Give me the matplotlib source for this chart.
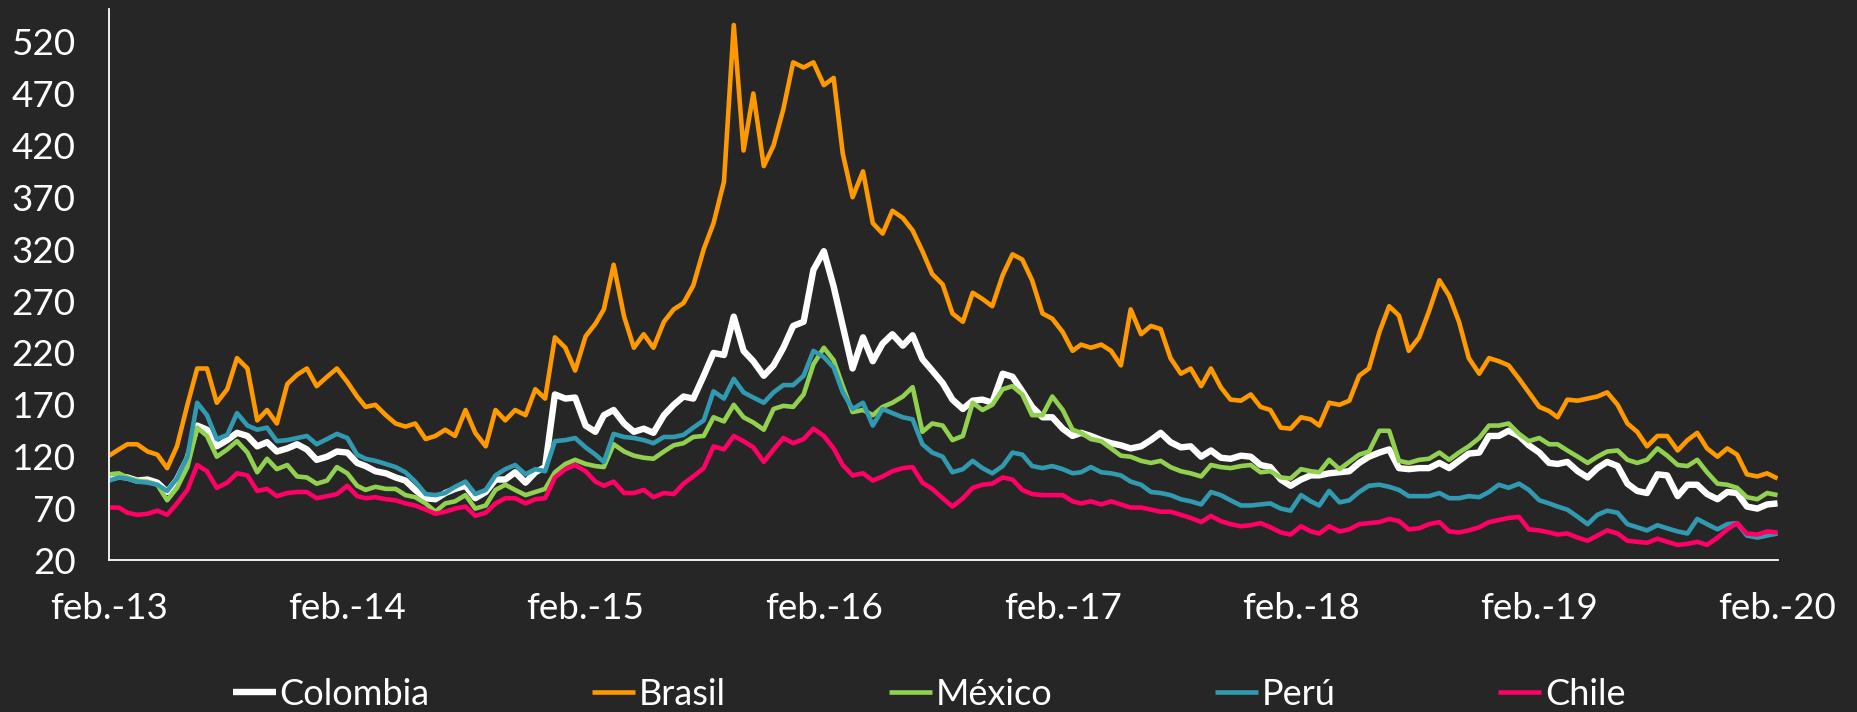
import pandas as pd
import matplotlib
matplotlib.use("Agg")
import matplotlib.pyplot as plt

# Readings taken twice a month (1st and 16th), feb-2013 .. feb-2020
colombia = [99, 101, 100, 97, 98, 95, 86, 98, 118, 150,
            146, 130, 136, 143, 140, 130, 134, 125, 128, 132,
            127, 117, 120, 125, 124, 114, 111, 106, 104, 100,
            97, 88, 80, 79, 85, 89, 92, 80, 86, 98,
            98, 105, 95, 105, 110, 180, 176, 177, 150, 144,
            160, 165, 152, 144, 147, 143, 160, 170, 178, 176,
            198, 220, 218, 255, 222, 212, 198, 208, 225, 246,
            250, 300, 318, 284, 246, 205, 235, 212, 229, 238,
            227, 237, 214, 203, 191, 175, 166, 174, 175, 172,
            200, 197, 183, 168, 158, 158, 147, 140, 143, 140,
            136, 133, 131, 128, 130, 136, 143, 134, 129, 130,
            120, 126, 119, 118, 121, 120, 112, 110, 98, 92,
            98, 102, 102, 104, 105, 106, 114, 120, 124, 127,
            109, 108, 109, 109, 114, 109, 116, 123, 124, 140,
            140, 145, 140, 131, 124, 114, 113, 115, 106, 100,
            109, 115, 111, 94, 87, 85, 103, 102, 82, 93,
            93, 84, 79, 86, 85, 72, 70, 74, 75]

brasil = [121, 127, 132, 132, 125, 122, 109, 130, 170, 205,
          205, 172, 185, 215, 205, 155, 165, 152, 190, 199,
          205, 188, 197, 205, 192, 178, 168, 170, 160, 152,
          149, 152, 137, 140, 146, 140, 165, 143, 130, 165,
          155, 165, 160, 185, 176, 235, 225, 203, 236, 248,
          262, 305, 255, 225, 238, 225, 250, 262, 268, 285,
          320, 345, 385, 536, 415, 470, 400, 420, 455, 500,
          495, 500, 478, 485, 412, 370, 395, 345, 335, 357,
          350, 338, 318, 296, 286, 258, 250, 278, 272, 265,
          295, 315, 310, 290, 258, 253, 240, 222, 228, 225,
          228, 222, 208, 262, 238, 246, 243, 215, 200, 205,
          188, 205, 187, 175, 174, 180, 168, 165, 148, 147,
          158, 156, 150, 172, 170, 174, 198, 205, 240, 265,
          256, 222, 235, 260, 290, 275, 250, 215, 200, 215,
          212, 208, 195, 182, 168, 164, 158, 175, 174, 176,
          178, 182, 170, 152, 144, 130, 140, 140, 126, 136,
          143, 128, 120, 128, 122, 103, 101, 104, 99]

mexico = [103, 104, 100, 97, 96, 93, 78, 90, 110, 148,
          140, 120, 127, 135, 124, 105, 118, 108, 112, 101,
          100, 94, 97, 110, 104, 92, 88, 91, 89, 89,
          83, 81, 75, 67, 75, 77, 83, 70, 73, 88,
          93, 88, 83, 86, 89, 105, 113, 117, 113, 111,
          110, 132, 125, 121, 119, 118, 125, 131, 133, 139,
          140, 158, 154, 170, 158, 153, 146, 166, 169, 168,
          180, 209, 225, 213, 188, 163, 165, 160, 168, 172,
          178, 187, 144, 152, 150, 136, 140, 172, 165, 170,
          185, 188, 180, 160, 160, 178, 165, 146, 143, 137,
          135, 128, 121, 120, 116, 114, 116, 110, 106, 104,
          101, 112, 110, 109, 111, 112, 105, 106, 100, 99,
          108, 106, 105, 117, 108, 115, 122, 125, 145, 145,
          116, 114, 117, 118, 124, 117, 124, 130, 138, 150,
          150, 152, 142, 135, 138, 132, 132, 126, 120, 114,
          120, 125, 126, 117, 114, 117, 128, 121, 112, 111,
          117, 105, 94, 93, 90, 81, 79, 85, 83]

peru = [97, 100, 99, 96, 95, 93, 87, 99, 120, 172,
        160, 137, 141, 162, 150, 146, 148, 135, 136, 138,
        140, 132, 137, 142, 138, 122, 118, 116, 113, 110,
        105, 96, 84, 83, 85, 91, 96, 84, 88, 102,
        108, 112, 103, 108, 106, 135, 136, 138, 129, 122,
        115, 142, 139, 138, 136, 133, 139, 139, 141, 148,
        155, 183, 176, 195, 182, 177, 172, 182, 189, 189,
        198, 222, 216, 206, 182, 166, 172, 150, 166, 162,
        158, 156, 132, 124, 120, 105, 108, 116, 109, 104,
        111, 124, 122, 111, 109, 111, 108, 104, 105, 110,
        105, 104, 102, 96, 93, 86, 85, 83, 79, 77,
        74, 86, 83, 78, 73, 73, 74, 75, 70, 68,
        83, 77, 73, 87, 76, 78, 86, 92, 93, 91,
        88, 82, 82, 82, 85, 80, 80, 82, 81, 86,
        93, 90, 94, 88, 78, 75, 72, 69, 62, 55,
        64, 68, 66, 55, 52, 49, 54, 51, 48, 46,
        60, 55, 50, 55, 56, 44, 42, 44, 46]

chile = [71, 71, 66, 64, 65, 68, 64, 75, 88, 112,
         106, 90, 95, 104, 102, 87, 89, 82, 85, 86,
         86, 80, 82, 84, 92, 82, 80, 81, 79, 78,
         75, 73, 69, 65, 67, 70, 72, 63, 66, 75,
         80, 80, 75, 79, 80, 100, 108, 112, 106, 96,
         92, 96, 85, 85, 88, 81, 85, 84, 94, 101,
         109, 130, 127, 140, 135, 129, 115, 127, 138, 133,
         137, 147, 140, 128, 112, 102, 104, 97, 101, 106,
         109, 110, 95, 89, 80, 72, 80, 90, 93, 94,
         100, 98, 88, 84, 83, 83, 83, 77, 75, 77,
         74, 77, 74, 71, 71, 69, 67, 67, 64, 61,
         57, 63, 58, 55, 53, 54, 56, 52, 47, 45,
         53, 48, 46, 53, 48, 50, 55, 56, 57, 60,
         58, 50, 51, 55, 57, 48, 47, 49, 52, 57,
         59, 61, 62, 50, 49, 47, 45, 46, 42, 39,
         44, 49, 46, 39, 38, 37, 41, 38, 35, 36,
         38, 35, 42, 50, 56, 46, 45, 48, 47]

year_labels = ["feb.-13", "feb.-14", "feb.-15", "feb.-16",
               "feb.-17", "feb.-18", "feb.-19", "feb.-20"]

# dates: 1st and 16th of every month
months = pd.date_range("2013-02-01", "2020-02-01", freq="MS")
dates = []
for m in months:
    dates.append(m)
    if m < months[-1]:
        dates.append(m + pd.Timedelta(days=15))

series = [("Colombia", colombia, "#FFFFFF", 4.6),
          ("Brasil", brasil, "#FF9900", 3.3),
          ("México", mexico, "#92D050", 3.3),
          ("Perú", peru, "#319AB0", 3.3),
          ("Chile", chile, "#FF0066", 3.3)]

bg = "#262626"
plt.rcParams["font.family"] = ["Lato", "DejaVu Sans"]

fig = plt.figure(figsize=(18.58, 7.12), dpi=100, facecolor=bg)
ax = fig.add_axes([0.0587, 0.2128, 0.898, 0.774], facecolor=bg)

for name, vals, color, lw in series:
    ax.plot(dates, vals, color=color, lw=lw, label=name,
            solid_joinstyle="round", solid_capstyle="butt")

ax.set_xlim(months[0], months[-1])
ax.set_ylim(20, 551)
ax.set_yticks(range(20, 521, 50))
ax.set_xticks(months[::12])
ax.set_xticklabels(year_labels)

for side in ("top", "right"):
    ax.spines[side].set_visible(False)
for side in ("left", "bottom"):
    ax.spines[side].set_color("white")
    ax.spines[side].set_linewidth(1.3)

ax.tick_params(axis="both", length=0, colors="white", labelsize=26.5)
ax.tick_params(axis="y", pad=24)
ax.tick_params(axis="x", pad=23)

fig.legend(loc="center", bbox_to_anchor=(0.5, 0.025), ncol=5, frameon=False,
           handlelength=1.2, handletextpad=0.1, columnspacing=4.5,
           fontsize=26, labelcolor="white")

fig.savefig("out.png", dpi=100, facecolor=bg)
